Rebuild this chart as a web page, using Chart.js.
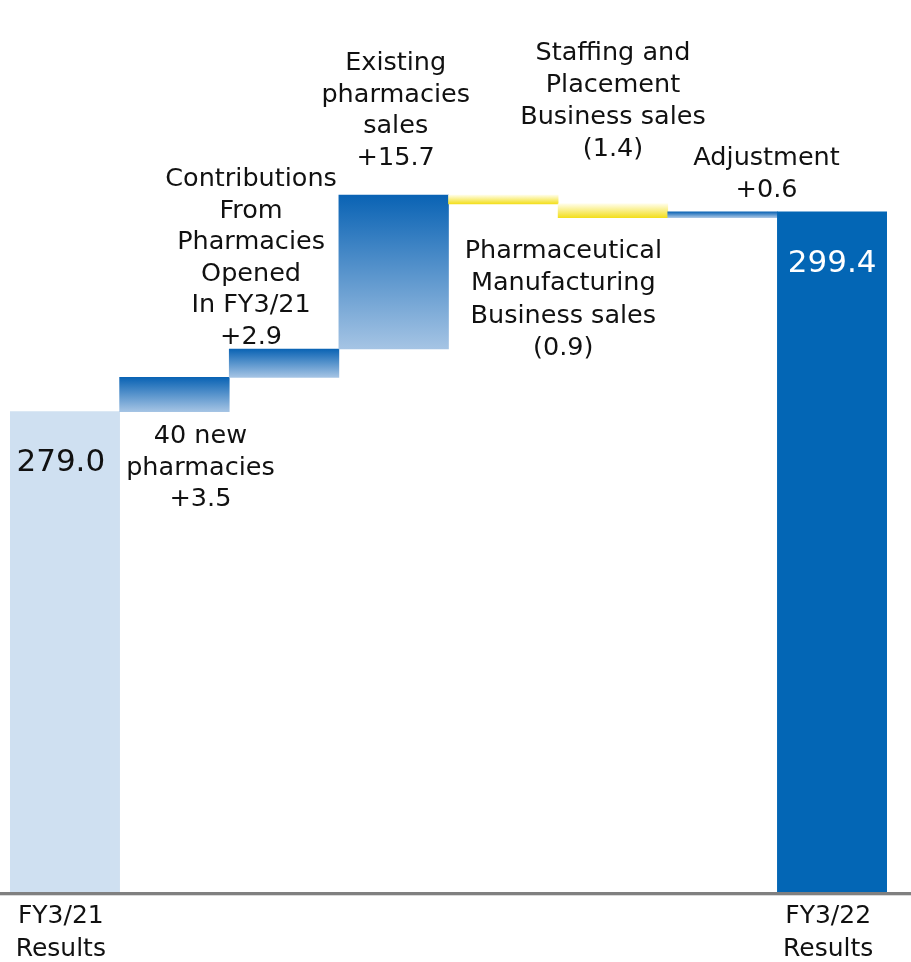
<!DOCTYPE html>
<html>
<head>
<meta charset="utf-8">
<script src="https://cdn.jsdelivr.net/npm/chart.js@4.4.1/dist/chart.umd.min.js"></script>
<style>
  html, body { margin: 0; padding: 0; background: #fff; }
  #wrap { width: 911px; height: 962px; position: relative; }
</style>
</head>
<body>
<div id="wrap"><canvas id="chart-waterfall"></canvas></div>
<script>
/* ── Data ─────────────────────────────────────────────────────── */
const categories = ['FY3/21 Results', '40 new pharmacies', 'Contributions From Pharmacies Opened In FY3/21',
  'Existing pharmacies sales', 'Pharmaceutical Manufacturing Business sales',
  'Staffing and Placement Business sales', 'Adjustment', 'FY3/22 Results'];
const startValue = 279.0;
const deltas     = [3.5, 2.9, 15.7, -0.9, -1.4, 0.6];
const endValue   = 299.4;
const axisLabels = [['FY3/21', 'Results'], [], [], [], [], [], [], ['FY3/22', 'Results']];
const noteLines  = [
  [],
  ['40 new', 'pharmacies', '+3.5'],
  ['Contributions', 'From', 'Pharmacies', 'Opened', 'In FY3/21', '+2.9'],
  ['Existing', 'pharmacies', 'sales', '+15.7'],
  ['Pharmaceutical', 'Manufacturing', 'Business sales', '(0.9)'],
  ['Staffing and', 'Placement', 'Business sales', '(1.4)'],
  ['Adjustment', '+0.6'],
  [],
];

/* floating [low, high] pairs built from the deltas */
const floats = [[230, startValue]];
let running = startValue;
deltas.forEach(d => {
  floats.push([running, running + d]);
  running += d;
});
floats.push([230, endValue]);

/* ── Styling ──────────────────────────────────────────────────── */
const FONT = '"DejaVu Sans", Verdana, sans-serif';
const TEXT = '#111111';

/* note placement: dx from bar centre, anchor edge, offset of first/last line, line height */
const notePlace = [
  null,
  { dx: 26,  edge: 'below', off: 25, lh: 31.5 },
  { dx: -33, edge: 'above', off: 12, lh: 31.5 },
  { dx: 2,   edge: 'above', off: 37, lh: 31.5 },
  { dx: 60,  edge: 'below', off: 47, lh: 32.5 },
  { dx: 0,   edge: 'above', off: 55, lh: 32 },
  { dx: 44,  edge: 'above', off: 21, lh: 32 },
  null,
];

function barFill(ctx) {
  const i = ctx.dataIndex;
  if (i === 0) return '#CFE0F1';
  if (i === floats.length - 1) return '#0366B5';
  const chart = ctx.chart;
  const y = chart.scales && chart.scales.y;
  if (!chart.chartArea || !y) return '#2E75C0';
  const [a, b] = floats[i];
  const top = y.getPixelForValue(Math.max(a, b));
  const bot = y.getPixelForValue(Math.min(a, b));
  const g = chart.ctx.createLinearGradient(0, top, 0, bot + 0.01);
  if (deltas[i - 1] < 0) {
    g.addColorStop(0, '#FFFDE6');
    g.addColorStop(1, '#F3DF1E');
  } else {
    g.addColorStop(0, '#0A63B4');
    g.addColorStop(1, '#A5C4E4');
  }
  return g;
}

/* ── Text + baseline plugin ───────────────────────────────────── */
const annotate = {
  id: 'annotate',
  afterDatasetsDraw(chart) {
    const { ctx, scales: { x, y } } = chart;
    ctx.save();
    ctx.textAlign = 'center';
    ctx.textBaseline = 'middle';

    /* notes */
    ctx.font = `25.5px ${FONT}`;
    ctx.fillStyle = TEXT;
    noteLines.forEach((lines, i) => {
      const p = notePlace[i];
      if (!p || !lines.length) return;
      const cx = x.getPixelForValue(i) + p.dx;
      const [a, b] = floats[i];
      let y0;
      if (p.edge === 'below') {
        y0 = y.getPixelForValue(Math.min(a, b)) + p.off;
      } else {
        y0 = y.getPixelForValue(Math.max(a, b)) - p.off - (lines.length - 1) * p.lh;
      }
      lines.forEach((t, k) => ctx.fillText(t, cx, y0 + k * p.lh));
    });

    /* totals */
    ctx.font = `31px ${FONT}`;
    ctx.fillStyle = TEXT;
    ctx.fillText(startValue.toFixed(1), x.getPixelForValue(0) - 4, y.getPixelForValue(startValue) + 51);
    ctx.fillStyle = '#FFFFFF';
    ctx.fillText(endValue.toFixed(1), x.getPixelForValue(7), y.getPixelForValue(endValue) + 52);

    /* baseline */
    const base = y.getPixelForValue(230);
    ctx.fillStyle = '#808080';
    ctx.fillRect(0, base, chart.width, 3);
    ctx.fillStyle = '#D9D9D9';
    ctx.fillRect(0, base + 3, chart.width, 1);

    /* category labels */
    ctx.font = `25px ${FONT}`;
    ctx.fillStyle = TEXT;
    axisLabels.forEach((lines, i) => {
      lines.forEach((t, k) => ctx.fillText(t, x.getPixelForValue(i) - 4, base + 24 + k * 33));
    });
    ctx.restore();
  },
};

new Chart(document.getElementById('chart-waterfall'), {
  type: 'bar',
  data: {
    labels: categories,
    datasets: [{
      data: floats,
      backgroundColor: barFill,
      borderWidth: 0,
      barPercentage: 1,
      categoryPercentage: 1,
    }],
  },
  options: {
    responsive: true,
    maintainAspectRatio: false,
    animation: false,
    layout: { padding: { left: 10, right: 24, top: 0, bottom: 70 } },
    plugins: { legend: { display: false }, tooltip: { enabled: false } },
    scales: {
      x: { display: false },
      y: { display: false, min: 230, max: 321 },
    },
  },
  plugins: [annotate],
});
</script>
</body>
</html>
